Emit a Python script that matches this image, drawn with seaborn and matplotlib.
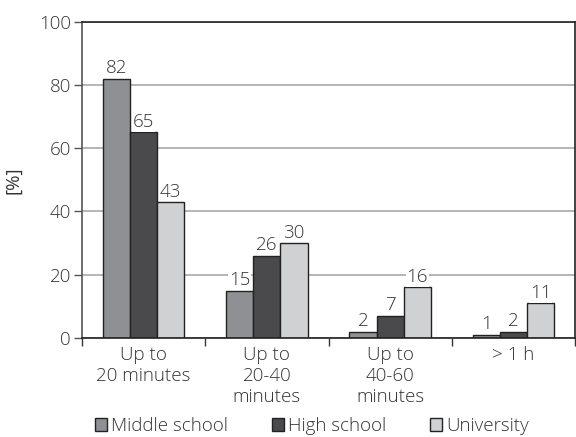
import matplotlib
matplotlib.use("Agg")
import matplotlib.pyplot as plt
import seaborn as sns
import pandas as pd

categories = ["Up to\n20 minutes", "Up to\n20-40\nminutes", "Up to\n40-60\nminutes", "> 1 h"]
series = ["Middle school", "High school", "University"]
middle_school = [82, 15, 2, 1]
high_school = [65, 26, 7, 2]
university = [43, 30, 16, 11]
y_ticks = [0, 20, 40, 60, 80, 100]

sns.set_theme(style="white")
plt.rcParams["font.family"] = ["Open Sans", "DejaVu Sans"]
plt.rcParams["font.weight"] = "light"

rows = []
for s, vals in zip(series, [middle_school, high_school, university]):
    for c, v in zip(categories, vals):
        rows.append({"cat": c, "series": s, "value": v})
df = pd.DataFrame(rows)

FS = 13.5
colors = ["#8f9094", "#4a4a4d", "#d0d1d3"]
fig = plt.figure(figsize=(5.76, 4.37), dpi=100)
ax = fig.add_axes([82/576, 1-338/437, (575-82)/576, (338-21.7)/437])

sns.barplot(data=df, x="cat", y="value", hue="series", palette=colors,
            order=categories, hue_order=series, width=0.66, ax=ax,
            edgecolor="#222222", linewidth=1.0, saturation=1, legend=True)

ax.set_ylim(0, 100)
ax.set_xlim(-0.5, 3.5)
ax.set_yticks(y_ticks)
ax.yaxis.grid(True, color="#a8a8a8", linewidth=1.2)
ax.set_axisbelow(True)
ax.tick_params(axis="y", labelsize=FS, colors="#555555", length=6, width=1, direction="out", left=True, pad=2)
for lab in ax.get_yticklabels():
    lab.set_color("#333333")
ax.set_xticks(range(len(categories)))
ax.set_xticklabels(categories, fontsize=FS, color="#333333", linespacing=1.22)
ax.tick_params(axis="x", which="major", length=0, pad=6)
ax.set_xticks([-0.5, 0.5, 1.5, 2.5, 3.5], minor=True)
ax.tick_params(axis="x", which="minor", length=6, width=1, color="#333333", direction="out", bottom=True)
ax.set_xlabel("")
ax.set_ylabel("[%]", fontsize=FS, color="#333333", labelpad=12)

for name, sp in ax.spines.items():
    sp.set_visible(True)
    sp.set_linewidth(1.2)
ax.spines["left"].set_color("#555555")
ax.spines["bottom"].set_color("#222222")
ax.spines["top"].set_color("#222222")
ax.spines["right"].set_color("#222222")

for cont in ax.containers:
    ax.bar_label(cont, fmt="%g", fontsize=FS, color="#333333", padding=1,
                 bbox=dict(facecolor="white", edgecolor="none", pad=0.5))

leg = ax.legend(loc="lower center", bbox_to_anchor=(312/576, 0.004), bbox_transform=fig.transFigure,
                ncol=3, frameon=False, fontsize=FS, handlelength=0.65, handleheight=0.65,
                handletextpad=0.25, columnspacing=2.3, borderaxespad=0, borderpad=0)
for t in leg.get_texts():
    t.set_color("#333333")

fig.savefig("out.png", dpi=100)
